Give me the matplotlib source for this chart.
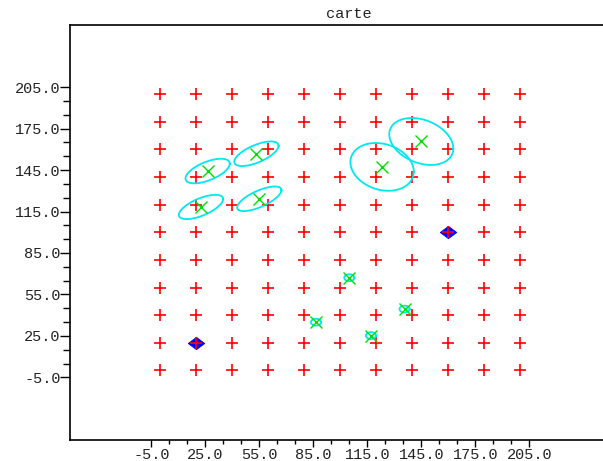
import numpy as np
import matplotlib
matplotlib.use("Agg")
import matplotlib.pyplot as plt
from matplotlib.ticker import FixedLocator, FormatStrFormatter

# landmark grid (red +)
grid_x = [0, 20, 40, 60, 80, 100, 120, 140, 160, 180, 200]
grid_y = [0, 20, 40, 60, 80, 100, 120, 140, 160, 180, 200]

# robot positions (blue diamonds)
robot_x = [20, 160]
robot_y = [20, 100]

# estimated landmarks (green x) and their uncertainty ellipses
est_x = [26.3, 53.4, 22.6, 55.0, 123.2, 145.0, 105.0, 86.5, 117.0, 135.7]
est_y = [144.3, 156.8, 118.3, 124.2, 147.3, 165.7, 67.1, 34.9, 25.2, 44.4]
ell_sx = [12.3, 12.3, 12.3, 12.3, 17.6, 17.8, 2.8, 2.8, 2.8, 2.8]
ell_sy = [8.9, 8.9, 8.8, 8.9, 17.3, 17.0, 2.5, 2.5, 2.5, 2.5]
ell_rho = [0.6, 0.65, 0.65, 0.7, -0.2, -0.3, 0.0, 0.0, 0.0, 0.0]

tick_vals = [-5, 25, 55, 85, 115, 145, 175, 205]

FONT = "Liberation Mono"

fig = plt.figure(figsize=(6.03, 4.61), dpi=100)
ax = fig.add_axes([70.3 / 603, 21.5 / 461, 540 / 603, 414.5 / 461])

gx, gy = np.meshgrid(grid_x, grid_y)

ax.plot(robot_x, robot_y, linestyle="none",
        marker=[(-1, 0), (0, 0.75), (1, 0), (0, -0.75), (-1, 0)],
        markersize=12, color="#0000ff", markeredgewidth=0.5, zorder=2)
ax.plot(gx.ravel(), gy.ravel(), "+", color="#ff0000",
        markersize=9, markeredgewidth=1.2, zorder=3)

t = np.linspace(0, 2 * np.pi, 200)
for cx, cy, sx, sy, r in zip(est_x, est_y, ell_sx, ell_sy, ell_rho):
    ex = cx + sx * np.cos(t)
    ey = cy + sy * (r * np.cos(t) + np.sqrt(1 - r * r) * np.sin(t))
    ax.plot(ex, ey, color="#00e8f0", linewidth=1.3, zorder=4)

ax.plot(est_x, est_y, "x", color="#00e000",
        markersize=9, markeredgewidth=1.0, zorder=5)

ax.set_xlim(-50, 250)
ax.set_ylim(-50, 250)

# minor ticks only inside the labelled range, two between each pair of labels
minor_vals = [v for v in np.arange(tick_vals[0], tick_vals[-1] + 1, 10)
              if v not in tick_vals]
for axis in (ax.xaxis, ax.yaxis):
    axis.set_major_locator(FixedLocator(tick_vals))
    axis.set_minor_locator(FixedLocator(minor_vals))
    axis.set_major_formatter(FormatStrFormatter("%.1f"))

ax.tick_params(axis="x", which="major", length=5, width=1, direction="out",
               pad=1, labelsize=11, labelcolor="#222222")
ax.tick_params(axis="x", which="minor", length=3, width=1, direction="out")
ax.tick_params(axis="y", which="major", length=7, width=1, direction="out",
               pad=0, labelsize=11, labelcolor="#222222")
ax.tick_params(axis="y", which="minor", length=5, width=1, direction="out")

for lab in ax.get_xticklabels() + ax.get_yticklabels():
    lab.set_fontfamily(FONT)

for s in ax.spines.values():
    s.set_linewidth(1.2)

fig.text(348.5 / 603, 1 - 13.5 / 461, "carte", ha="center", va="center",
         fontsize=11, family=FONT, color="#222222")

fig.savefig("out.png", dpi=100)
